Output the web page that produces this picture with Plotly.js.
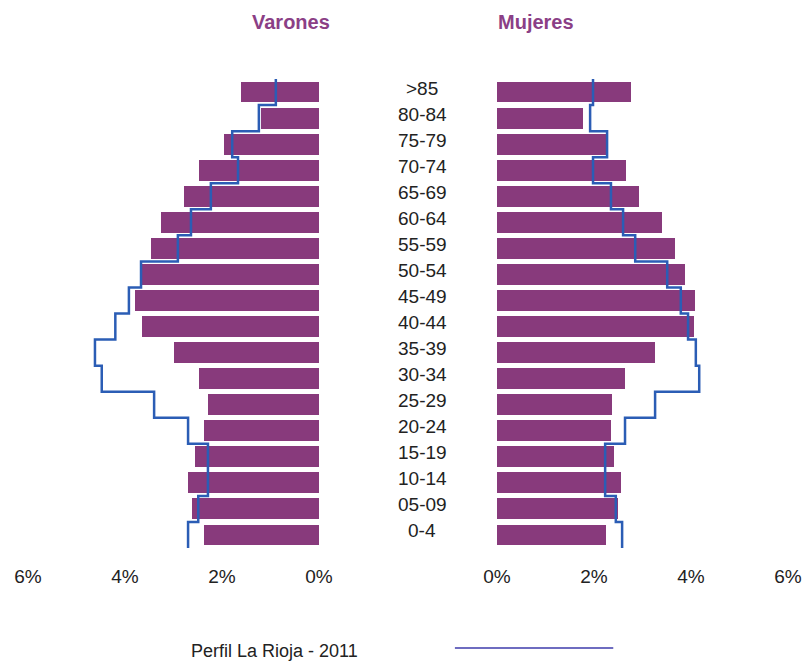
<!DOCTYPE html>
<html>
<head>
<meta charset="utf-8">
<script src="https://cdn.plot.ly/plotly-3.0.1.min.js"></script>
<style>
  body { margin: 0; background: #fff; }
  #plot { width: 808px; height: 662px; }
</style>
</head>
<body>
<div id="plot"></div>
<script>
// age groups, bottom to top
let ages = ["0-4", "05-09", "10-14", "15-19", "20-24", "25-29", "30-34", "35-39", "40-44",
            "45-49", "50-54", "55-59", "60-64", "65-69", "70-74", "75-79", "80-84", ">85"];

// bars (%)
let varones = [2.37, 2.62, 2.70, 2.56, 2.37, 2.29, 2.47, 2.99, 3.65,
               3.79, 3.65, 3.46, 3.26, 2.78, 2.47, 1.96, 1.20, 1.61];
let mujeres = [2.25, 2.49, 2.56, 2.41, 2.35, 2.37, 2.64, 3.26, 4.06,
               4.08, 3.88, 3.67, 3.40, 2.93, 2.66, 2.27, 1.77, 2.76];

// Perfil La Rioja - 2011 (%)
let perfilVarones = [2.70, 2.49, 2.29, 2.29, 2.70, 3.40, 4.48, 4.62, 4.20,
                     3.92, 3.67, 2.91, 2.64, 2.23, 1.67, 1.79, 1.24, 0.89];
let perfilMujeres = [2.58, 2.45, 2.23, 2.23, 2.64, 3.26, 4.17, 4.10, 3.94,
                     3.79, 3.51, 2.85, 2.60, 2.35, 1.98, 2.27, 1.92, 1.98];

let ticks = [0, 2, 4, 6];
let tickLabels = ["0%", "2%", "4%", "6%"];

let barColor = "#883a7c";
let lineColor = "#2b5db5";
let font = "'Liberation Sans', Arial, sans-serif";

let idx = ages.map((a, i) => i);

// step outline: one vertical piece per age group
function steps(vals) {
  let xs = [], ys = [];
  vals.forEach(function (v, i) {
    xs.push(v, v);
    ys.push(i - 0.5, i + 0.5);
  });
  return {x: xs, y: ys};
}
let sv = steps(perfilVarones);
let sm = steps(perfilMujeres);

let traceV = {
  type: "bar", orientation: "h",
  x: varones, y: idx, xaxis: "x", yaxis: "y",
  width: 0.8, marker: {color: barColor},
  name: "Varones", hoverinfo: "x+text", text: ages, textposition: "none"
};
let traceM = {
  type: "bar", orientation: "h",
  x: mujeres, y: idx, xaxis: "x2", yaxis: "y",
  width: 0.8, marker: {color: barColor},
  name: "Mujeres", hoverinfo: "x+text", text: ages, textposition: "none"
};
let lineV = {
  type: "scatter", mode: "lines",
  x: sv.x, y: sv.y, xaxis: "x", yaxis: "y",
  line: {color: lineColor, width: 2.5}, name: "Perfil La Rioja - 2011"
};
let lineM = {
  type: "scatter", mode: "lines",
  x: sm.x, y: sm.y, xaxis: "x2", yaxis: "y",
  line: {color: lineColor, width: 2.5}, name: "Perfil La Rioja - 2011"
};

let axisCommon = {
  tickvals: ticks, ticktext: tickLabels,
  showgrid: false, zeroline: false, showline: false, ticks: "",
  tickfont: {family: font, size: 19, color: "#222"},
  ticklabelstandoff: 15, anchor: "y", fixedrange: true
};

let annotations = ages.map(function (a, i) {
  return {
    text: a, x: 0.5223, xref: "paper", y: i, yref: "y",
    xanchor: "center", yanchor: "middle", yshift: 4, showarrow: false,
    font: {family: font, size: 19, color: "#222"}
  };
});
annotations.push(
  {text: "<b>Varones</b>", x: 0.360, y: 0.967, xref: "paper", yref: "paper",
   yanchor: "middle", showarrow: false, font: {family: font, size: 20, color: "#8b3f86"}},
  {text: "<b>Mujeres</b>", x: 0.6634, y: 0.967, xref: "paper", yref: "paper",
   yanchor: "middle", showarrow: false, font: {family: font, size: 20, color: "#8b3f86"}},
  {text: "Perfil La Rioja - 2011", x: 0.2345, y: 0.0166, xref: "paper", yref: "paper",
   xanchor: "left", yanchor: "middle", showarrow: false,
   font: {family: font, size: 18, color: "#222"}}
);

let layout = {
  width: 808, height: 662,
  margin: {l: 0, r: 0, t: 0, b: 0},
  paper_bgcolor: "#fff", plot_bgcolor: "#fff",
  showlegend: false, bargap: 0,
  xaxis: Object.assign({}, axisCommon, {domain: [0.0347, 0.3948], range: [6, 0]}),
  xaxis2: Object.assign({}, axisCommon, {domain: [0.6151, 0.9752], range: [0, 6]}),
  yaxis: {domain: [0.1722, 0.8806], range: [-0.5, 17.5], visible: false, fixedrange: true},
  annotations: annotations,
  shapes: [{
    type: "line", xref: "paper", yref: "paper",
    x0: 0.563, x1: 0.759, y0: 0.021, y1: 0.021,
    line: {color: "#6e6cc0", width: 2}
  }]
};

Plotly.newPlot("plot", [traceV, traceM, lineV, lineM], layout, {displayModeBar: false});
</script>
</body>
</html>
